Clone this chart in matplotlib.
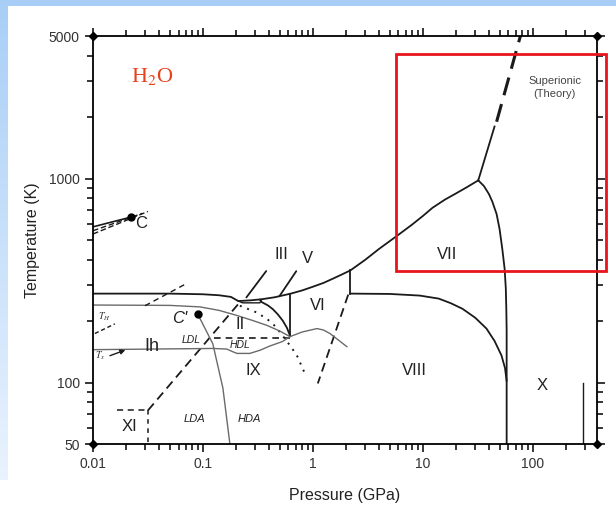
import numpy as np
import matplotlib
matplotlib.use("Agg")
import matplotlib.pyplot as plt
from matplotlib.patches import Rectangle

plt.rcParams["font.family"] = ["Liberation Sans", "DejaVu Sans"]
plt.rcParams["mathtext.fontset"] = "stix"

# phase boundaries, pressure in GPa and temperature in K
melt_P = [0.01, 0.05, 0.1, 0.14, 0.18, 0.21, 0.27, 0.34, 0.45, 0.63, 0.8, 1.0, 1.25,
          1.5, 1.8, 2.2, 3.0, 4.0, 6.0, 8.0, 10.0, 12.3, 16.0, 20.0, 25.0, 32.0]
melt_T = [273, 273, 271, 268, 263, 251, 253, 256, 262, 273, 283, 295, 308,
          322, 337, 355, 400, 452, 530, 595, 655, 720, 790, 845, 905, 980]

ion_P = [32, 45]
ion_T = [980, 1800]
ion_dash_P = [47, 82]
ion_dash_T = [1900, 5600]

vii_P = [32, 36, 40, 43, 47, 50, 53, 55.6, 57, 57.6, 58, 58]
vii_T = [980, 920, 840, 770, 670, 566, 450, 361, 289, 230, 180, 50]

viii_P = [2.2, 5, 9.4, 14, 18, 23, 30, 38, 45, 52, 56, 58]
viii_T = [273, 272, 267, 258, 245, 230, 208, 184, 160, 136, 118, 102]

vi_vii_P = [2.2, 2.2]
vi_vii_T = [355, 273]

v_vi_P = [0.62, 0.62]
v_vi_T = [273, 172]

ii_v_P = [0.33, 0.343, 0.39, 0.433, 0.48, 0.533, 0.58, 0.62]
ii_v_T = [255, 248, 239, 229, 216, 201, 186, 170]

iii_P = [0.21, 0.23, 0.33, 0.34]
iii_T = [251, 246, 246, 255]

ih_ii_P = [0.0316, 0.217]
ih_ii_T = [73, 248]

xi_h_P = [0.0165, 0.0316]
xi_h_T = [73, 73]
xi_v_P = [0.0316, 0.0316]
xi_v_T = [73, 50]

dot_P = [0.217, 0.3, 0.38, 0.46, 0.53, 0.62, 0.716, 0.845]
dot_T = [238, 222, 206, 188, 170, 152, 136, 111]

vi_viii_P = [2.1, 1.11]
vi_viii_T = [270, 99]

ldl_P = [0.125, 0.62]
ldl_T = [165, 165]

tx_P = [0.01, 0.123, 0.165, 0.185, 0.204, 0.267, 0.33, 0.405, 0.53, 0.62, 0.8,
        1.09, 1.25, 1.43, 1.7, 2.04]
tx_T = [145, 147, 146, 142, 139, 139, 144, 151, 159, 168, 177,
        184, 181, 174, 162, 150]

th_P = [0.01, 0.05, 0.094, 0.14, 0.2, 0.28, 0.38, 0.5, 0.62]
th_T = [240, 239, 235, 226, 214, 202, 191, 179, 168]

cp_P = [0.09, 0.123, 0.152, 0.176]
cp_T = [216, 155, 94, 50]

th_dash_P = [0.0297, 0.0686]
th_dash_T = [238, 303]
small_dash_P = [0.0104, 0.0158]
small_dash_T = [174, 194]

boil_P = [0.01, 0.022]
boil_T = [580, 647]
boil_dash1_P = [0.01, 0.0316]
boil_dash1_T = [535, 690]
boil_dash2_P = [0.01, 0.028]
boil_dash2_T = [555, 675]

x_line_P = [285, 285]
x_line_T = [100, 50]

crit_P = [0.022, 0.09]
crit_T = [647, 216]

# region labels: text, P, T, size, style
labels = [
    ("III", 0.52, 423, 12, "normal"),
    ("V", 0.90, 405, 12, "normal"),
    ("VI", 1.11, 238, 12, "normal"),
    ("II", 0.22, 193, 12, "normal"),
    ("IX", 0.285, 114, 12, "normal"),
    ("VIII", 8.45, 115, 12, "normal"),
    ("VII", 16.5, 423, 12, "normal"),
    ("X", 123, 97, 12, "normal"),
    ("XI", 0.0217, 61, 12, "normal"),
    ("LDA", 0.083, 66, 8, "italic"),
    ("HDA", 0.262, 66, 8, "italic"),
    ("LDL", 0.079, 161, 7.5, "italic"),
    ("HDL", 0.22, 153, 7.5, "italic"),
    ("Ih", 0.0344, 150, 13, "normal"),
    ("C", 0.0273, 605, 12, "normal"),
    ("C'", 0.062, 206, 12, "italic"),
]

x_ticks = [0.01, 0.1, 1, 10, 100]
x_ticklabels = ["0.01", "0.1", "1", "10", "100"]
y_ticks = [50, 100, 1000, 5000]
y_ticklabels = ["50", "100", "1000", "5000"]

fig = plt.figure(figsize=(6.16, 5.08), dpi=100)

# page background: light blue band on top and a fading strip on the left
bg = fig.add_axes([0, 0, 1, 1], zorder=-10)
img = np.ones((508, 616, 3))
blue = np.array([0.66, 0.81, 0.97])
img[:6, :, :] = blue
for r in range(6, 480):
    a = 0.25 + 0.75 * (1 - r / 480.0)
    img[r, :8, :] = a * blue + (1 - a) * 1.0
bg.imshow(img, aspect="auto", interpolation="bilinear")
bg.axis("off")

ax = fig.add_axes([93 / 616, 1 - 444 / 508, 504 / 616, 408 / 508])
ax.set_xscale("log")
ax.set_yscale("log")
ax.set_xlim(0.01, 385)
ax.set_ylim(50, 5000)

k = "#1a1a1a"
g = "#6a6a6a"
lw = 1.3

ax.plot(melt_P, melt_T, color=k, lw=lw)
ax.plot(ion_P, ion_T, color=k, lw=lw)
ax.plot(ion_dash_P, ion_dash_T, color=k, lw=2.2, ls=(0, (6, 3)))
ax.plot(vii_P, vii_T, color=k, lw=lw)
ax.plot(viii_P, viii_T, color=k, lw=lw)
ax.plot(vi_vii_P, vi_vii_T, color=k, lw=lw)
ax.plot(v_vi_P, v_vi_T, color=k, lw=lw)
ax.plot(ii_v_P, ii_v_T, color=k, lw=lw)
ax.plot(iii_P, iii_T, color=k, lw=1.0)
ax.plot(ih_ii_P, ih_ii_T, color=k, lw=lw, ls=(0, (5, 3)))
ax.plot(xi_h_P, xi_h_T, color=k, lw=1.1, ls=(0, (4, 3)))
ax.plot(xi_v_P, xi_v_T, color=k, lw=1.1, ls=(0, (3, 3)))
ax.plot(dot_P, dot_T, color=k, lw=1.4, ls=(0, (1, 3)))
ax.plot(vi_viii_P, vi_viii_T, color=k, lw=lw, ls=(0, (5, 3)))
ax.plot(ldl_P, ldl_T, color=k, lw=1.2, ls=(0, (4, 3)))
ax.plot(tx_P, tx_T, color=g, lw=1.0)
ax.plot(th_P, th_T, color=g, lw=1.0)
ax.plot(cp_P, cp_T, color=g, lw=1.0)
ax.plot(th_dash_P, th_dash_T, color=k, lw=1.0, ls=(0, (4, 3)))
ax.plot(small_dash_P, small_dash_T, color=k, lw=1.0, ls=(0, (3, 2)))
ax.plot(boil_P, boil_T, color=k, lw=1.2)
ax.plot(boil_dash1_P, boil_dash1_T, color=k, lw=1.0, ls=(0, (4, 2)))
ax.plot(boil_dash2_P, boil_dash2_T, color=k, lw=1.0, ls=(0, (4, 2)))
ax.plot(x_line_P, x_line_T, color=k, lw=1.0)
ax.plot(crit_P, crit_T, "o", color="black", ms=5)

# arrows from III and V labels
ax.annotate("", xy=(0.24, 255), xytext=(0.39, 361),
            arrowprops=dict(arrowstyle="-", color=k, lw=1.3))
ax.annotate("", xy=(0.48, 258), xytext=(0.73, 361),
            arrowprops=dict(arrowstyle="-", color=k, lw=1.3))

for txt, p, t, fs, st in labels:
    ax.text(p, t, txt, fontsize=fs, style=st, color="#222222",
            ha="center", va="center")

ax.text(0.0126, 211, r"$T_H$", fontsize=7, color="#333333", ha="center", va="center")
ax.text(0.0116, 136, r"$T_x$", fontsize=7, color="#333333", ha="center", va="center")
ax.annotate("", xy=(0.0208, 146), xytext=(0.0135, 134),
            arrowprops=dict(arrowstyle="-|>", color=k, lw=1.0, mutation_scale=7))

ax.text(158, 2790, "Superionic\n(Theory)", fontsize=8, color="#444444",
        ha="center", va="center", linespacing=1.3)
ax.text(0.0344, 3155, r"H$_2$O", fontsize=16, color="#e8401c",
        family="Liberation Serif", ha="center", va="center")

# corner markers
ax.plot([0.01, 0.01, 385, 385], [50, 5000, 50, 5000], "D", color="black",
        ms=4, clip_on=False)

ax.set_xticks(x_ticks)
ax.set_xticklabels(x_ticklabels)
ax.set_yticks(y_ticks)
ax.set_yticklabels(y_ticklabels)
ax.tick_params(which="both", top=True, right=True, labelsize=10,
               labelcolor="#333333", width=1.1)
ax.tick_params(which="major", length=6)
ax.tick_params(which="minor", length=4)
for s in ax.spines.values():
    s.set_linewidth(1.3)

ax.set_xlabel("Pressure (GPa)", fontsize=11.5, color="#222222", labelpad=12)
ax.set_ylabel("Temperature (K)", fontsize=11.5, color="#222222", labelpad=6)

# highlight box around the high-pressure region
fig.patches.append(Rectangle((396 / 616, 1 - 271 / 508), 210 / 616, 217 / 508,
                             transform=fig.transFigure, fill=False,
                             edgecolor="#e8141c", lw=2.0))

fig.savefig("out.png", dpi=100)
